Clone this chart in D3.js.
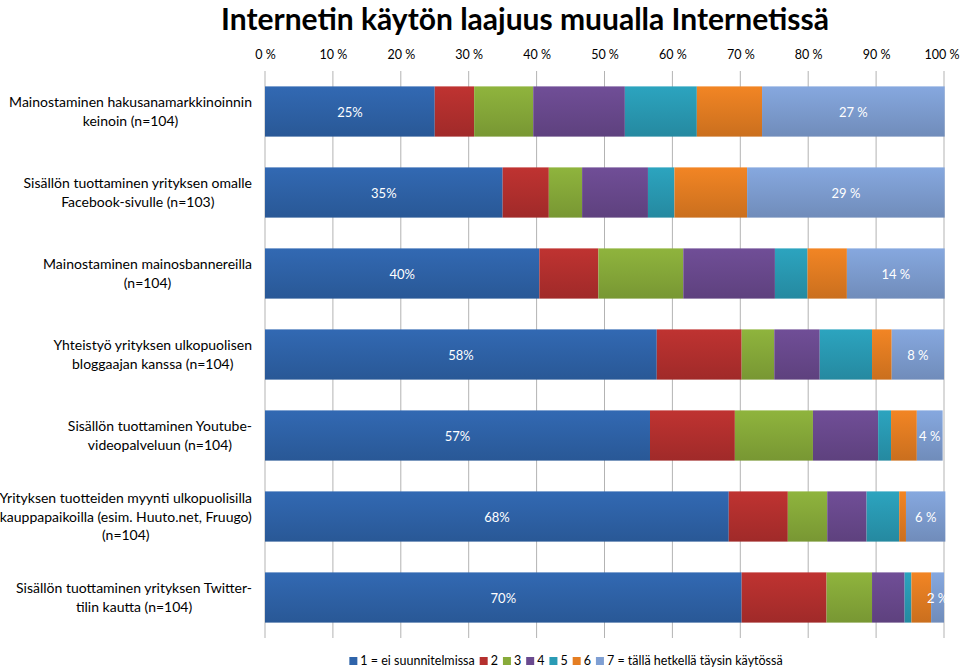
<!DOCTYPE html>
<html>
<head>
<meta charset="utf-8">
<script src="https://cdn.jsdelivr.net/npm/d3@7"></script>
<style>
  body { margin: 0; background: #fff; }
  text { font-family: Lato, "Open Sans", sans-serif; }
</style>
</head>
<body>
<div id="chart"></div>
<script>
// categories (top to bottom), each as wrapped lines
const categories = [
  ["Mainostaminen hakusanamarkkinoinnin", "keinoin  (n=104)"],
  ["Sisällön tuottaminen yrityksen omalle", "Facebook-sivulle  (n=103)"],
  ["Mainostaminen mainosbannereilla", "(n=104)"],
  ["Yhteistyö yrityksen ulkopuolisen", "bloggaajan kanssa  (n=104)"],
  ["Sisällön tuottaminen Youtube-", "videopalveluun  (n=104)"],
  ["Yrityksen tuotteiden myynti ulkopuolisilla", "kauppapaikoilla (esim. Huuto.net, Fruugo)", "(n=104)"],
  ["Sisällön tuottaminen yrityksen Twitter-", "tilin kautta  (n=104)"]
];

const seriesNames = ["1 = ei suunnitelmissa", "2", "3", "4", "5", "6", "7 = tällä hetkellä täysin käytössä"];

// share of answers (%) per category, one array per series
const s1 = [25.0, 35.0, 40.4, 57.7, 56.7, 68.3, 70.2];
const s2 = [5.8, 6.8, 8.7, 12.5, 12.5, 8.7, 12.5];
const s3 = [8.7, 4.9, 12.5, 4.8, 11.5, 5.8, 6.7];
const s4 = [13.5, 9.7, 13.5, 6.7, 9.6, 5.8, 4.8];
const s5 = [10.6, 3.9, 4.8, 7.7, 1.9, 4.8, 1.0];
const s6 = [9.6, 10.7, 5.8, 2.9, 3.8, 1.0, 2.9];
const s7 = [26.9, 29.1, 14.4, 7.7, 3.8, 5.8, 1.9];

const ticks = [0, 10, 20, 30, 40, 50, 60, 70, 80, 90, 100];

const seriesValues = [s1, s2, s3, s4, s5, s6, s7];
const colors = ["#2f64aa", "#b5302e", "#88ab3a", "#6a4a8f", "#2a9bb5", "#e57e22", "#7f9fd3"];

const width = 960, height = 668;
const plotLeft = 265, plotRight = 944, plotTop = 71, plotBottom = 638;

const svg = d3.select("#chart").append("svg")
  .attr("width", width)
  .attr("height", height);

// gradients for the Excel-like shading
const defs = svg.append("defs");
colors.forEach((c, i) => {
  const g = defs.append("linearGradient")
    .attr("id", "grad" + i)
    .attr("x1", 0).attr("y1", 0).attr("x2", 0).attr("y2", 1);
  g.append("stop").attr("offset", "0%").attr("stop-color", d3.color(c).brighter(0.15));
  g.append("stop").attr("offset", "100%").attr("stop-color", d3.color(c).darker(0.35));
});

// title
svg.append("text")
  .attr("x", 525).attr("y", 30)
  .attr("text-anchor", "middle")
  .style("font-size", "30px")
  .style("font-weight", "bold")
  .text("Internetin käytön laajuus muualla Internetissä");

const x = d3.scaleLinear().domain([0, 100]).range([plotLeft, plotRight]);
const y = d3.scaleBand()
  .domain(d3.range(categories.length))
  .range([plotTop, plotBottom])
  .paddingInner(0.38)
  .paddingOuter(0.19);

// gridlines
svg.append("g")
  .selectAll("line")
  .data(ticks)
  .enter()
  .append("line")
  .attr("x1", d => x(d)).attr("x2", d => x(d))
  .attr("y1", plotTop).attr("y2", plotBottom)
  .attr("stroke", "#b3b3b3")
  .attr("stroke-width", 1);

// top axis labels
const axis = svg.append("g")
  .attr("transform", `translate(0, ${plotTop})`)
  .call(d3.axisTop(x).tickValues(ticks).tickFormat(d => d + " %").tickSize(0).tickPadding(12));
axis.select(".domain").remove();
axis.selectAll("text")
  .style("font-family", "Lato, sans-serif")
  .style("font-size", "12.5px")
  .attr("fill", "#000");
// keep "100 %" inside the window
axis.selectAll("text").filter(d => d === 100)
  .attr("text-anchor", "end")
  .attr("dx", 15);

// stacked data
const rows = categories.map((c, i) => {
  const r = { i };
  seriesValues.forEach((s, k) => { r["s" + k] = s[i]; });
  return r;
});
const keys = seriesValues.map((s, k) => "s" + k);
const stacked = d3.stack().keys(keys)(rows);

stacked.forEach((layer, k) => {
  svg.append("g")
    .selectAll("rect")
    .data(layer)
    .enter()
    .append("rect")
    .attr("x", d => x(d[0]))
    .attr("y", d => y(d.data.i))
    .attr("width", d => x(d[1]) - x(d[0]))
    .attr("height", y.bandwidth())
    .attr("fill", `url(#grad${k})`);
});

// value labels on first and last segment
const first = stacked[0], last = stacked[stacked.length - 1];
svg.append("g")
  .selectAll("text")
  .data(first)
  .enter()
  .append("text")
  .attr("x", d => (x(d[0]) + x(d[1])) / 2)
  .attr("y", d => y(d.data.i) + y.bandwidth() / 2 + 5)
  .attr("text-anchor", "middle")
  .attr("fill", "#fff")
  .style("font-size", "13px")
  .text(d => Math.round(d[1] - d[0]) + "%");

svg.append("g")
  .selectAll("text")
  .data(last)
  .enter()
  .append("text")
  .attr("x", d => (x(d[0]) + x(d[1])) / 2)
  .attr("y", d => y(d.data.i) + y.bandwidth() / 2 + 5)
  .attr("text-anchor", "middle")
  .attr("fill", "#fff")
  .style("font-size", "13px")
  .text(d => Math.round(d[1] - d[0]) + " %");

// category labels: block right-aligned, lines centred within block
const labelRight = 252, lineH = 18.5;
categories.forEach((lines, i) => {
  const g = svg.append("g");
  const cy = y(i) + y.bandwidth() / 2;
  const t = g.selectAll("text")
    .data(lines)
    .enter()
    .append("text")
    .attr("y", (d, j) => cy + (j - (lines.length - 1) / 2) * lineH + 5)
    .style("font-size", "14px")
    .attr("fill", "#000")
    .attr("text-anchor", "middle")
    .text(d => d);
  let maxW = 0;
  t.each(function () { maxW = Math.max(maxW, this.getComputedTextLength()); });
  t.attr("x", labelRight - maxW / 2);
});

// legend
const legend = svg.append("g");
let lx = 0;
seriesNames.forEach((name, k) => {
  const item = legend.append("g").attr("transform", `translate(${lx},0)`);
  item.append("rect")
    .attr("x", 0).attr("y", -8)
    .attr("width", 8).attr("height", 8)
    .attr("fill", colors[k]);
  const tx = item.append("text")
    .attr("x", 11).attr("y", 0)
    .style("font-size", "12.5px")
    .text(name);
  lx += 11 + tx.node().getComputedTextLength() + 5;
});
legend.attr("transform", `translate(${566 - (lx - 5) / 2}, 665)`);
</script>
</body>
</html>
